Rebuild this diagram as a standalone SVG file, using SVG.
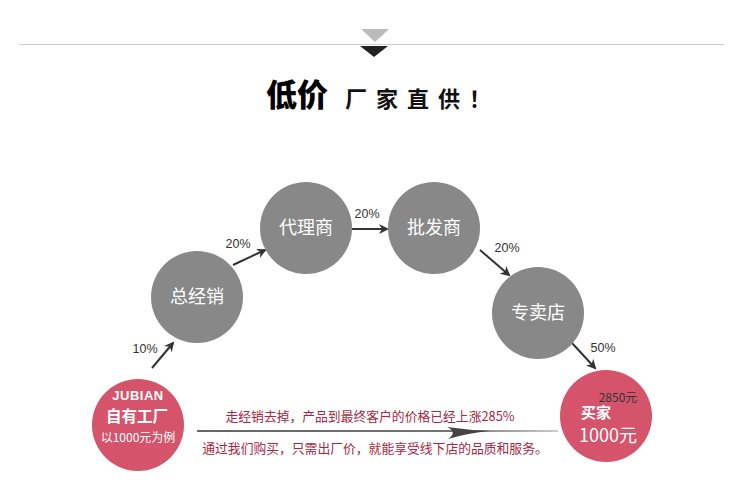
<svg xmlns="http://www.w3.org/2000/svg" width="750" height="490" viewBox="0 0 750 490">
<defs>
<style>
.cn{font-family:"Noto Sans CJK SC","Liberation Sans",sans-serif;}
.gc{fill:#888888;}
.rc{fill:#d5546b;}
.nl{font-size:18px;fill:#ffffff;text-anchor:middle;}
.pl{font-family:"Liberation Sans","Noto Sans CJK SC",sans-serif;font-size:12.5px;fill:#333333;text-anchor:middle;}
.con{stroke:#333333;stroke-width:2;fill:none;marker-end:url(#ah);}
.rt{font-size:12.8px;fill:#a8283f;}
</style>
<marker id="ah" viewBox="0 0 10 10" refX="8" refY="5" markerWidth="5" markerHeight="5" orient="auto" markerUnits="strokeWidth">
<path d="M0,0 L10,5 L0,10 L3,5 Z" fill="#333333"/>
</marker>
<linearGradient id="lg" x1="197" y1="0" x2="560" y2="0" gradientUnits="userSpaceOnUse">
<stop offset="0" stop-color="#333333"/>
<stop offset="0.7" stop-color="#444444"/>
<stop offset="1" stop-color="#bbbbbb"/>
</linearGradient>
</defs>
<rect width="750" height="490" fill="#ffffff"/>
<g id="header">
<line x1="19" y1="44.5" x2="724" y2="44.5" stroke="#cccccc" stroke-width="1"/>
<polygon points="361,29 389,29 375,42" fill="#bbbbbb"/>
<polygon points="360,46 388,46 374,57" fill="#222222"/>
<text x="266" y="106" class="cn" font-size="31" font-weight="900" fill="#000000">低价</text>
<text x="345" y="107" class="cn" font-size="22" font-weight="bold" fill="#111111" letter-spacing="9">厂家直供！</text>
</g>
<g id="connectors">
<line class="con" x1="152" y1="368" x2="173" y2="343"/>
<line class="con" x1="233" y1="265" x2="265" y2="250"/>
<line class="con" x1="352" y1="229" x2="387" y2="229"/>
<line class="con" x1="480" y1="250" x2="509" y2="275"/>
<line class="con" x1="572" y1="343" x2="595" y2="368"/>
<text class="pl" x="145" y="353">10%</text>
<text class="pl" x="238" y="248">20%</text>
<text class="pl" x="367" y="218">20%</text>
<text class="pl" x="507" y="252">20%</text>
<text class="pl" x="603" y="352">50%</text>
<line x1="197" y1="431" x2="558" y2="431" stroke="url(#lg)" stroke-width="1.6"/>
<path d="M447,427 Q468,430 490,431 Q468,433 448,439 Q458,432 447,427 Z" fill="#444444"/>
</g>
<g id="node-factory">
<circle class="rc" cx="138" cy="425" r="46"/>
<text x="138" y="400" font-family="'Liberation Sans',sans-serif" font-size="13" font-weight="bold" fill="#ffffff" text-anchor="middle" letter-spacing="0.5">JUBIAN</text>
<text x="137" y="422" class="cn" font-size="15.5" font-weight="bold" fill="#ffffff" text-anchor="middle">自有工厂</text>
<text x="138" y="442" class="cn" font-size="12" fill="#ffffff" text-anchor="middle">以1000元为例</text>
</g>
<g id="node-zongjingxiao">
<circle class="gc" cx="197" cy="297" r="46"/>
<text class="cn nl" x="197" y="303">总经销</text>
</g>
<g id="node-dailishang">
<circle class="gc" cx="306" cy="228" r="46"/>
<text class="cn nl" x="306" y="234">代理商</text>
</g>
<g id="node-pifashang">
<circle class="gc" cx="434" cy="228" r="46"/>
<text class="cn nl" x="434" y="234">批发商</text>
</g>
<g id="node-zhuanmaidian">
<circle class="gc" cx="538" cy="313" r="46"/>
<text class="cn nl" x="538" y="319">专卖店</text>
</g>
<g id="node-buyer">
<circle class="rc" cx="606" cy="416" r="46"/>
<text x="618" y="402" class="cn" font-size="12" fill="#333333" text-anchor="middle">2850元</text>
<text x="596" y="418" class="cn" font-size="15" font-weight="bold" fill="#ffffff" text-anchor="middle">买家</text>
<text x="608" y="442" class="cn" font-size="18" fill="#ffffff" text-anchor="middle">1000元</text>
</g>
<g id="notes">
<text x="370" y="421" class="cn rt" text-anchor="middle">走经销去掉，产品到最终客户的价格已经上涨285%</text>
<text x="375" y="453" class="cn rt" text-anchor="middle">通过我们购买，只需出厂价，就能享受线下店的品质和服务。</text>
</g>
</svg>
